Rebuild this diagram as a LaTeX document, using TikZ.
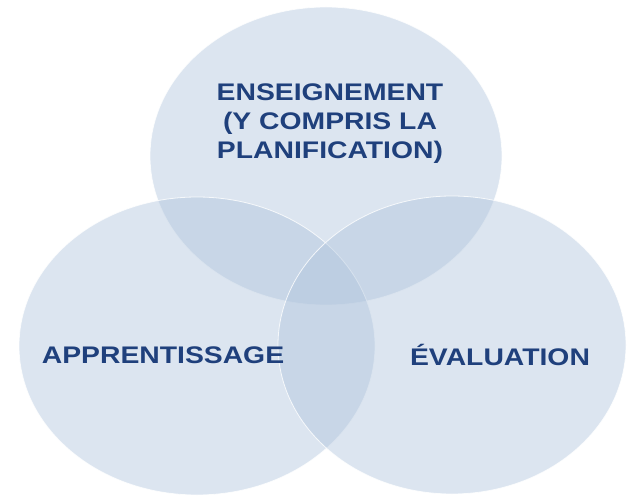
\documentclass[tikz,border=0pt]{standalone}
\usepackage{fontspec}
\setmainfont{Liberation Sans}

\definecolor{bubblefill}{RGB}{174,195,220}
\definecolor{inkblue}{RGB}{31,64,124}

\begin{document}
\begin{tikzpicture}[x=1pt,y=1pt,
    bubble/.style={fill=bubblefill,fill opacity=0.43,draw=white,draw opacity=0.8,line width=0.8pt},
    bubbletext/.style={text=inkblue,font=\fontsize{24}{29}\selectfont\bfseries,
        xscale=1.18,transform shape,align=center,inner sep=0pt}] %three overlapping circles
    \useasboundingbox (0,0) rectangle (629,496);
    \filldraw[bubble] (326,340) ellipse (176 and 149);
    \filldraw[bubble] (197,150) ellipse (178 and 149);
    \filldraw[bubble] (452,151) ellipse (174 and 149);
    \node[bubbletext] (enseignement) at (330,372)
        {ENSEIGNEMENT\\(Y COMPRIS LA\\PLANIFICATION)};
    \node[bubbletext,anchor=base] (apprentissage) at (163,133) {APPRENTISSAGE};
    \node[bubbletext,anchor=base] (evaluation) at (500,131) {ÉVALUATION};
\end{tikzpicture}
\end{document}
